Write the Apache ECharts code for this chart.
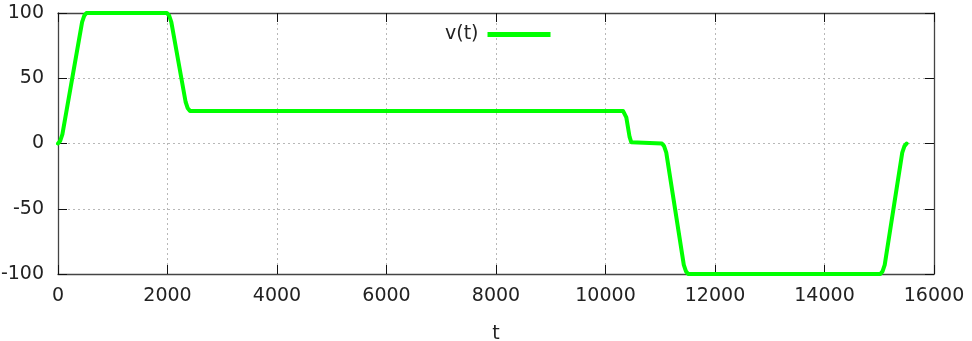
<!DOCTYPE html>
<html>
<head>
<meta charset="utf-8">
<script src="https://cdn.jsdelivr.net/npm/echarts@6/dist/echarts.min.js"></script>
<style>html,body{margin:0;padding:0;background:#fff}#c{width:972px;height:341px}</style>
</head>
<body>
<div id="c"></div>
<script>
// Data
const tValues = [0, 40, 80, 440, 480, 520, 1990, 2030, 2070, 2330, 2370, 2410,
  10320, 10350, 10380, 10440, 10470, 10500, 11030, 11070, 11110, 11430, 11470, 11510,
  15020, 15060, 15100, 15420, 15460, 15500];
const vValues = [0, 2, 7, 93, 98, 100, 100, 98, 93, 32, 27, 25,
  25, 24, 20, 5, 1, 0, 0, -2, -7, -93, -98, -100,
  -100, -98, -93, -7, -2, 0];
const seriesName = 'v(t)';
const xAxisName = 't';
const xTicks = [0, 2000, 4000, 6000, 8000, 10000, 12000, 14000, 16000];
const yTicks = [-100, -50, 0, 50, 100];

const font = 'DejaVu Sans';
const txt = '#222';
const frame = '#444';
const fs = 19;
const data = tValues.map((t, i) => [t, vValues[i]]);

const chart = echarts.init(document.getElementById('c'), null, {renderer: 'canvas'});
const baseX = {
  type: 'value', min: xTicks[0], max: xTicks[xTicks.length - 1], interval: xTicks[1] - xTicks[0],
  axisLine: {show: true, onZero: false, lineStyle: {color: frame, width: 1.3}},
  axisTick: {show: true, inside: true, length: 9, lineStyle: {color: '#111', width: 1}},
};
const baseY = {
  type: 'value', min: yTicks[0], max: yTicks[yTicks.length - 1], interval: yTicks[1] - yTicks[0],
  axisLine: {show: true, onZero: false, lineStyle: {color: frame, width: 1.3}},
  axisTick: {show: true, inside: true, length: 9, lineStyle: {color: '#111', width: 1}},
};
chart.setOption({
  animation: false,
  backgroundColor: '#fff',
  grid: {left: 58, right: 38, top: 13, bottom: 67, containLabel: false, outerBoundsMode: 'none'},
  legend: {
    show: true, left: 440, top: 20, align: 'right', icon: 'rect',
    itemWidth: 63, itemHeight: 5, itemGap: 10,
    textStyle: {fontFamily: font, fontSize: fs, color: txt, padding: [0, 4, 0, 0]},
    data: [seriesName]
  },
  xAxis: [
    Object.assign({}, baseX, {
      position: 'bottom', name: xAxisName, nameLocation: 'middle', nameGap: 51,
      nameTextStyle: {fontFamily: font, fontSize: fs, color: txt},
      axisLabel: {show: true, fontFamily: font, fontSize: fs, color: txt, margin: 13,
        formatter: v => String(v)},
      splitLine: {show: true, lineStyle: {color: '#b8b8b8', type: [2, 3], width: 1}}
    }),
    Object.assign({}, baseX, {position: 'top', axisLabel: {show: false}, splitLine: {show: false}})
  ],
  yAxis: [
    Object.assign({}, baseY, {
      position: 'left',
      axisLabel: {show: true, fontFamily: font, fontSize: fs, color: txt, margin: 14,
        formatter: v => String(v)},
      splitLine: {show: true, lineStyle: {color: '#b8b8b8', type: [2, 3], width: 1}}
    }),
    Object.assign({}, baseY, {position: 'right', axisLabel: {show: false}, splitLine: {show: false}})
  ],
  series: [{
    name: seriesName, type: 'line', xAxisIndex: 0, yAxisIndex: 0,
    data: data, showSymbol: false, symbol: 'none', smooth: false,
    color: '#00ff00',
    lineStyle: {color: '#00ff00', width: 4, cap: 'round', join: 'round'},
    itemStyle: {color: '#00ff00'},
    z: 5
  }]
});
</script>
</body>
</html>
